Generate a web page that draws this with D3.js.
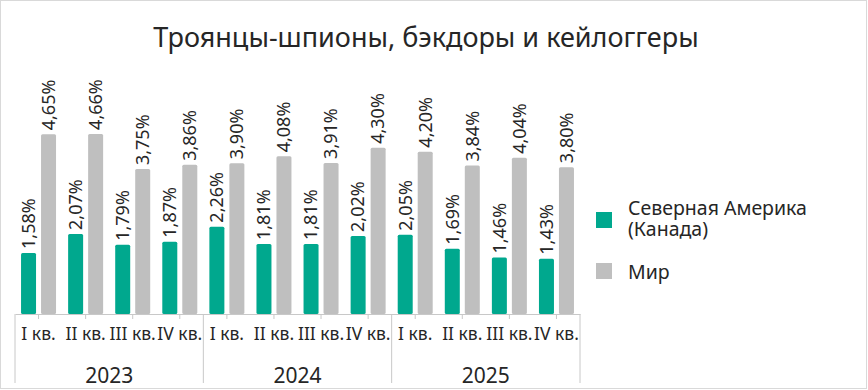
<!DOCTYPE html>
<html>
<head>
<meta charset="utf-8">
<script src="https://cdn.jsdelivr.net/npm/d3@7"></script>
<style>
  body { margin: 0; background: #fff; }
  svg { display: block; font-family: "Noto Sans", sans-serif; }
</style>
</head>
<body>
<div id="chart"></div>
<script>
// data
var quarters = ["I кв.", "II кв.", "III кв.", "IV кв."];
var years = ["2023", "2024", "2025"];
var seriesNames = ["Северная Америка (Канада)", "Мир"];
var canada = [1.58, 2.07, 1.79, 1.87, 2.26, 1.81, 1.81, 2.02, 2.05, 1.69, 1.46, 1.43];
var world = [4.65, 4.66, 3.75, 3.86, 3.90, 4.08, 3.91, 4.30, 4.20, 3.84, 4.04, 3.80];
var colors = ["#00a88e", "#bfbfbf"];

var width = 868;
var height = 390;
var plot = { left: 15, right: 580, base: 314, top: 120.75 };

var svg = d3.select('#chart')
    .append('svg')
    .attr('width', width)
    .attr('height', height);

// outer frame
svg.append('rect')
    .attr('x', 0.5).attr('y', 0.5)
    .attr('width', 866).attr('height', 388)
    .attr('fill', 'none')
    .attr('stroke', '#d9d9d9');

// title
svg.append('text')
    .attr('x', 426)
    .attr('y', 47)
    .attr('text-anchor', 'middle')
    .attr('fill', '#262626')
    .style('font-size', '27px')
    .text('Троянцы-шпионы, бэкдоры и кейлоггеры');

// rows
var rows = [];
for (var i = 0; i < canada.length; i++) {
    rows.push({ i: i, q: quarters[i % 4], year: years[Math.floor(i / 4)], vals: [canada[i], world[i]] });
}

var x0 = d3.scaleBand()
    .domain(d3.range(rows.length))
    .range([plot.left, plot.right])
    .padding(0);

var x1 = d3.scaleBand()
    .domain([0, 1])
    .range([0, 35])
    .paddingInner(0.25);

var y = d3.scaleLinear()
    .domain([0, 5])
    .range([plot.base, plot.top]);

var ru = d3.formatLocale({ decimal: ",", thousands: " ", grouping: [3], currency: ["", " ₽"] });
var fmt = ru.format(".2f");

// bars
var groups = svg.append('g').selectAll('g')
    .data(rows)
    .enter()
    .append('g')
    .attr('transform', d => "translate(" + (x0(d.i) + (x0.bandwidth() - 35) / 2) + ",0)");

groups.selectAll('rect')
    .data(d => d.vals.map((v, k) => ({ v: v, k: k })))
    .enter()
    .append('rect')
    .attr('x', d => x1(d.k))
    .attr('y', d => y(d.v))
    .attr('width', x1.bandwidth())
    .attr('height', d => y(0) - y(d.v))
    .attr('rx', 1.5)
    .attr('fill', d => colors[d.k]);

// value labels (rotated)
groups.selectAll('text')
    .data(d => d.vals.map((v, k) => ({ v: v, k: k })))
    .enter()
    .append('text')
    .attr('transform', d => "translate(" + (x1(d.k) + x1.bandwidth() / 2) + "," + (y(d.v) - 4) + ") rotate(-90)")
    .attr('dy', '0.35em')
    .attr('text-anchor', 'start')
    .attr('fill', '#262626')
    .style('font-size', '18px')
    .text(d => fmt(d.v) + "%");

// axis
var xAxis = d3.axisBottom(x0)
    .tickSize(5)
    .tickSizeOuter(0)
    .tickPadding(9)
    .tickFormat(i => rows[i].q);

var gX = svg.append('g')
    .attr('transform', "translate(0," + plot.base + ")")
    .call(xAxis);

gX.select('.domain').attr('stroke', '#c8c8c8');
gX.selectAll('.tick line').attr('stroke', '#c8c8c8');
gX.selectAll('.tick text')
    .attr('fill', '#262626')
    .style('font-size', '17.5px')
    .style('font-family', '"Noto Sans", sans-serif');

// year separators and labels
var bounds = [0, 4, 8, 12].map(k => k < 12 ? x0(k) : plot.right);
svg.append('g').selectAll('line')
    .data(bounds)
    .enter()
    .append('line')
    .attr('x1', d => d).attr('x2', d => d)
    .attr('y1', plot.base).attr('y2', 383)
    .attr('stroke', '#c8c8c8');

svg.append('g').selectAll('text')
    .data(years)
    .enter()
    .append('text')
    .attr('x', (d, k) => (bounds[k] + bounds[k + 1]) / 2)
    .attr('y', 383)
    .attr('text-anchor', 'middle')
    .attr('fill', '#262626')
    .style('font-size', '21px')
    .text(d => d);

// legend
var legend = svg.append('g');
legend.append('rect')
    .attr('x', 596).attr('y', 212)
    .attr('width', 16).attr('height', 16)
    .attr('fill', colors[0]);
legend.append('text')
    .attr('x', 628).attr('y', 215)
    .attr('fill', '#262626')
    .style('font-size', '19.5px')
    .selectAll('tspan')
    .data(["Северная Америка", "(Канада)"])
    .enter()
    .append('tspan')
    .attr('x', 628)
    .attr('dy', (d, k) => k ? 21 : 0)
    .text(d => d);
legend.append('rect')
    .attr('x', 596).attr('y', 263)
    .attr('width', 16).attr('height', 16)
    .attr('fill', colors[1]);
legend.append('text')
    .attr('x', 628).attr('y', 279)
    .attr('fill', '#262626')
    .style('font-size', '19.5px')
    .text(seriesNames[1]);
</script>
</body>
</html>
